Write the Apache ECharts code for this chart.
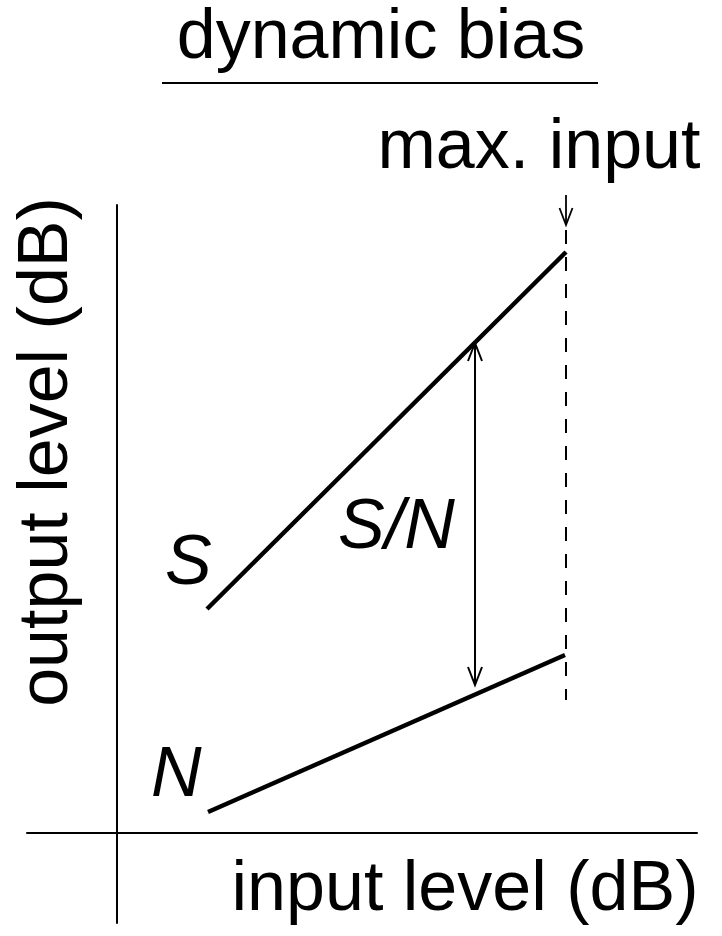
<!DOCTYPE html>
<html>
<head>
<meta charset="utf-8">
<script src="https://cdn.jsdelivr.net/npm/echarts@6/dist/echarts.min.js"></script>
<style>
html,body{margin:0;padding:0;background:#fff;}
#chart{width:722px;height:936px;}
</style>
</head>
<body>
<div id="chart"></div>
<script>
// ---- data (arbitrary dB units, axes cross at 0,0) ----
const xRange = [-9, 58];
const yRange = [-9, 62.8];
const signalX = [9.0, 44.9];
const signalY = [22.4, 58.1];
const noiseX = [9.1, 44.8];
const noiseY = [2.1, 17.8];
const maxInputX = 44.9;
const maxInputDashY = [60.3, 13.3];
const maxInputArrowY = [63.8, 60.8];
const snArrowX = 35.8;
const snArrowY = [49.0, 14.8];
// ---- texts ----
const titleText = 'dynamic bias';
const maxInputText = 'max. input';
const xAxisName = 'input level (dB)';
const yAxisName = 'output level (dB)';
const signalLabel = 'S';
const noiseLabel = 'N';
const snLabel = 'S/N';

const FONT = '"Liberation Sans", Arial, Helvetica, sans-serif';

function arrowRenderer(headLen, headHalf, width, doubleHead) {
  return function (params, api) {
    const x = api.value(0);
    const p0 = api.coord([x, api.value(1)]);
    const p1 = api.coord([x, api.value(2)]);
    const children = [{
      type: 'line',
      shape: {x1: p0[0], y1: p0[1], x2: p1[0], y2: p1[1]},
      style: {stroke: '#000', lineWidth: width}
    }];
    function head(tip, from) {
      const dx = tip[0] - from[0], dy = tip[1] - from[1];
      const L = Math.sqrt(dx * dx + dy * dy) || 1;
      const ux = dx / L, uy = dy / L;
      const bx = tip[0] - ux * headLen, by = tip[1] - uy * headLen;
      children.push({
        type: 'polyline',
        shape: {points: [[bx - uy * headHalf, by + ux * headHalf], tip, [bx + uy * headHalf, by - ux * headHalf]]},
        style: {stroke: '#000', lineWidth: width, fill: null}
      });
    }
    head(p1, p0);
    if (doubleHead) head(p0, p1);
    return {type: 'group', children: children};
  };
}

const chart = echarts.init(document.getElementById('chart'), null, {renderer: 'canvas'});
chart.setOption({
  animation: false,
  backgroundColor: '#fff',
  grid: {left: 27, right: 25, top: 205, bottom: 13},
  xAxis: {
    type: 'value', min: xRange[0], max: xRange[1],
    axisLine: {show: true, onZero: true, lineStyle: {color: '#000', width: 2}},
    axisTick: {show: false}, axisLabel: {show: false}, splitLine: {show: false}
  },
  yAxis: {
    type: 'value', min: yRange[0], max: yRange[1],
    axisLine: {show: true, onZero: true, lineStyle: {color: '#000', width: 2}},
    axisTick: {show: false}, axisLabel: {show: false}, splitLine: {show: false}
  },
  series: [
    {
      type: 'line', symbol: 'none', silent: true, clip: false,
      data: signalX.map((x, i) => [x, signalY[i]]),
      lineStyle: {color: '#000', width: 4.5, cap: 'butt'}
    },
    {
      type: 'line', symbol: 'none', silent: true, clip: false,
      data: noiseX.map((x, i) => [x, noiseY[i]]),
      lineStyle: {color: '#000', width: 4.5, cap: 'butt'}
    },
    {
      type: 'line', symbol: 'none', silent: true, clip: false,
      data: maxInputDashY.map(y => [maxInputX, y]),
      lineStyle: {color: '#000', width: 2, type: [14, 13]}
    },
    {
      type: 'custom', silent: true, clip: false,
      renderItem: arrowRenderer(17, 6.5, 1.8, false),
      data: [[maxInputX, maxInputArrowY[0], maxInputArrowY[1]]]
    },
    {
      type: 'custom', silent: true, clip: false,
      renderItem: arrowRenderer(18, 7, 2, true),
      data: [[snArrowX, snArrowY[0], snArrowY[1]]]
    }
  ],
  graphic: [
    {type: 'text', x: 381, y: 39, style: {text: titleText, font: '70px ' + FONT, fill: '#000', textAlign: 'center', textVerticalAlign: 'middle'}},
    {type: 'line', shape: {x1: 162, y1: 83, x2: 598, y2: 83}, style: {stroke: '#000', lineWidth: 2}},
    {type: 'text', x: 539, y: 149, style: {text: maxInputText, font: '70px ' + FONT, fill: '#000', textAlign: 'center', textVerticalAlign: 'middle'}},
    {type: 'text', x: 465, y: 891, style: {text: xAxisName, font: '70px ' + FONT, fill: '#000', textAlign: 'center', textVerticalAlign: 'middle'}},
    {type: 'text', x: 48, y: 452, rotation: Math.PI / 2, style: {text: yAxisName, font: '70px ' + FONT, fill: '#000', textAlign: 'center', textVerticalAlign: 'middle'}},
    {type: 'text', x: 165, y: 565, style: {text: signalLabel, font: 'italic 70px ' + FONT, fill: '#000', textAlign: 'left', textVerticalAlign: 'middle'}},
    {type: 'text', x: 151, y: 777, style: {text: noiseLabel, font: 'italic 70px ' + FONT, fill: '#000', textAlign: 'left', textVerticalAlign: 'middle'}},
    {type: 'text', x: 338, y: 529, style: {text: snLabel, font: 'italic 70px ' + FONT, fill: '#000', textAlign: 'left', textVerticalAlign: 'middle'}}
  ]
});
</script>
</body>
</html>
